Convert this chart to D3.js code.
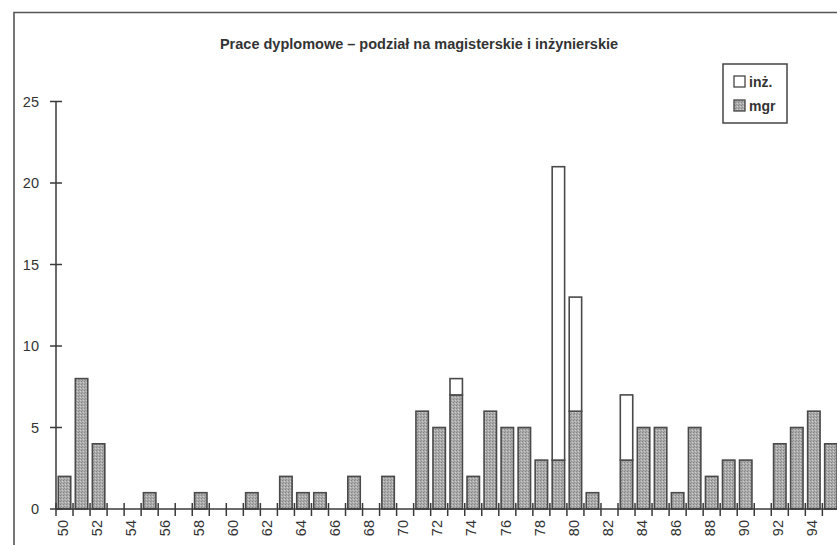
<!DOCTYPE html>
<html>
<head>
<meta charset="utf-8">
<script src="https://cdn.jsdelivr.net/npm/d3@7"></script>
<style>
  html, body { margin: 0; padding: 0; background: #fff; }
  svg { display: block; }
</style>
</head>
<body>
<svg id="chart" width="837" height="545"></svg>
<script>
// ---- data ----
const years = d3.range(50, 96).map(String);
const mgr = [2, 8, 4, 0, 0, 1, 0, 0, 1, 0, 0, 1, 0, 2, 1, 1, 0, 2, 0, 2,
             0, 6, 5, 7, 2, 6, 5, 5, 3, 3, 6, 1, 0, 3, 5, 5, 1, 5, 2, 3,
             3, 0, 4, 5, 6, 4];
const inz = [0, 0, 0, 0, 0, 0, 0, 0, 0, 0, 0, 0, 0, 0, 0, 0, 0, 0, 0, 0,
             0, 0, 0, 1, 0, 0, 0, 0, 0, 18, 7, 0, 0, 4, 0, 0, 0, 0, 0, 0,
             0, 0, 0, 0, 0, 0];
const yTicks = [0, 5, 10, 15, 20, 25];
const xLabels = years.filter((d, i) => i % 2 === 0);
const seriesNames = ["inż.", "mgr"];
const title = "Prace dyplomowe – podział na magisterskie i inżynierskie";

// ---- layout ----
const svg = d3.select("#chart");
const ink = "#3a3a3a";
const x = d3.scaleBand().domain(years).range([56, 839.4]).paddingInner(0.27).paddingOuter(0.135);
const xb = d3.scaleBand().domain(years).range([56, 839.4]);
const y = d3.scaleLinear().domain([0, 25]).range([509, 101.5]);

// pattern for mgr fill (halftone-like)
const defs = svg.append("defs");
const pat = defs.append("pattern").attr("id", "mgrFill")
  .attr("width", 3).attr("height", 3).attr("patternUnits", "userSpaceOnUse");
pat.append("rect").attr("width", 3).attr("height", 3).attr("fill", "#ababab");
pat.append("rect").attr("x", 0).attr("y", 0).attr("width", 1).attr("height", 1).attr("fill", "#848484");
pat.append("rect").attr("x", 2).attr("y", 1).attr("width", 1).attr("height", 1).attr("fill", "#cdcdcd");
pat.append("rect").attr("x", 1).attr("y", 2).attr("width", 1).attr("height", 1).attr("fill", "#929292");

// outer frame
svg.append("path").attr("d", "M14,545 L14,12.5 L837,12.5")
  .attr("fill", "none").attr("stroke", "#555").attr("stroke-width", 1.6);

// title
svg.append("text").attr("x", 419).attr("y", 49).attr("text-anchor", "middle")
  .attr("font-family", "Liberation Sans, Arial, sans-serif").attr("font-weight", "bold")
  .attr("font-size", 14.5).attr("fill", "#333").text(title);

// bars
const idx = years.map((d, i) => i);
const bars = svg.append("g");
bars.selectAll("rect.mgr").data(idx.filter(i => mgr[i] > 0)).join("rect")
  .attr("class", "mgr")
  .attr("x", i => x(years[i]))
  .attr("width", x.bandwidth())
  .attr("y", i => y(mgr[i]))
  .attr("height", i => y(0) - y(mgr[i]))
  .attr("fill", "url(#mgrFill)").attr("stroke", "#4a4a4a").attr("stroke-width", 1.6);
bars.selectAll("rect.inz").data(idx.filter(i => inz[i] > 0)).join("rect")
  .attr("class", "inz")
  .attr("x", i => x(years[i]))
  .attr("width", x.bandwidth())
  .attr("y", i => y(mgr[i] + inz[i]))
  .attr("height", i => y(mgr[i]) - y(mgr[i] + inz[i]))
  .attr("fill", "#fff").attr("stroke", "#4a4a4a").attr("stroke-width", 1.6);

// y axis
const gy = svg.append("g");
gy.append("line").attr("x1", 56).attr("x2", 56).attr("y1", y(25)).attr("y2", y(0))
  .attr("stroke", ink).attr("stroke-width", 1.5);
gy.selectAll("line.t").data(yTicks).join("line").attr("class", "t")
  .attr("x1", 50).attr("x2", 62).attr("y1", d => y(d)).attr("y2", d => y(d))
  .attr("stroke", ink).attr("stroke-width", 1.5);
gy.selectAll("text").data(yTicks).join("text")
  .attr("x", 39).attr("y", d => y(d)).attr("dy", "0.36em").attr("text-anchor", "end")
  .attr("font-family", "Liberation Sans, Arial, sans-serif").attr("font-size", 14.5)
  .attr("fill", "#333").text(d => d);

// x axis
const gx = svg.append("g");
gx.append("line").attr("x1", 56).attr("x2", 839).attr("y1", y(0)).attr("y2", y(0))
  .attr("stroke", ink).attr("stroke-width", 1.5);
const bounds = years.map(d => xb(d)).concat([xb(years[years.length - 1]) + xb.bandwidth()]);
gx.selectAll("line.t").data(bounds).join("line").attr("class", "t")
  .attr("x1", d => d).attr("x2", d => d).attr("y1", y(0) - 6).attr("y2", y(0) + 7)
  .attr("stroke", ink).attr("stroke-width", 1.5);
gx.selectAll("text").data(xLabels).join("text")
  .attr("transform", d => `translate(${xb(d) + xb.bandwidth() / 2 - 2},520) rotate(-90)`)
  .attr("dy", "0.36em").attr("text-anchor", "end")
  .attr("font-family", "Liberation Sans, Arial, sans-serif").attr("font-size", 14.5)
  .attr("fill", "#333").text(d => d);

// legend
const lg = svg.append("g");
lg.append("rect").attr("x", 723).attr("y", 64).attr("width", 64).attr("height", 59)
  .attr("fill", "#fff").attr("stroke", "#444").attr("stroke-width", 1.5);
const legFills = ["#fff", "url(#mgrFill)"];
seriesNames.forEach((name, i) => {
  lg.append("rect").attr("x", 734).attr("y", 76 + i * 24).attr("width", 11).attr("height", 11)
    .attr("fill", legFills[i]).attr("stroke", "#444").attr("stroke-width", 1.3);
  lg.append("text").attr("x", 749).attr("y", 81.5 + i * 24).attr("dy", "0.36em")
    .attr("font-family", "Liberation Sans, Arial, sans-serif").attr("font-size", 14)
    .attr("font-weight", 600).attr("fill", "#333").text(name);
});
</script>
</body>
</html>
